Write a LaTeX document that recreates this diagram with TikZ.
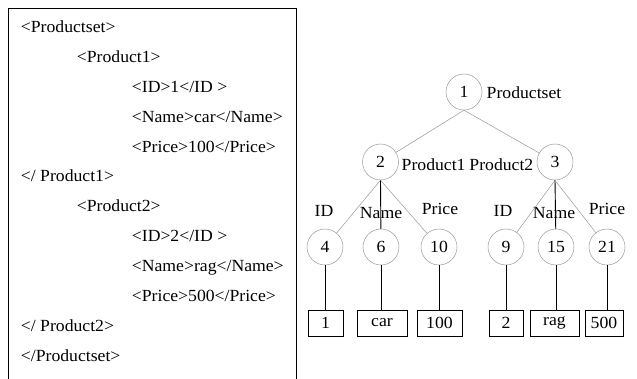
\documentclass[tikz,border=0pt]{standalone}
\usepackage{fontspec}
\setmainfont[FakeStretch=1.04]{Liberation Serif}
\begin{document}
\begin{tikzpicture}[x=1pt,y=-1pt,
  every node/.style={font=\fontsize{17}{20}\selectfont, inner sep=0pt},
  xmltext/.style={anchor=base west},
  treenode/.style={circle, draw=gray!80, line width=0.5pt, minimum size=36pt},
  leafbox/.style={draw=black, line width=0.9pt, minimum height=26pt},
  thinedge/.style={draw=gray!80, line width=0.5pt},
  thickedge/.style={draw=black, line width=0.9pt},
  lbl/.style={anchor=base west},
  lblr/.style={anchor=base east},
  elbl/.style={anchor=base}
]
\useasboundingbox (0,0) rectangle (637,379);
% frame
\draw[line width=0.9pt] (8.5,379) -- (8.5,8) -- (296,8) -- (296,379);
% xml text
\node[xmltext] (t1)  at (20.7,32.5)  {<Productset>};
\node[xmltext] (t2)  at (76.7,62.4)  {<Product1>};
\node[xmltext] (t3)  at (131.7,92.3) {<ID>1</ID >};
\node[xmltext] (t4)  at (131.7,122.2) {<Name>car</Name>};
\node[xmltext] (t5)  at (131.7,152.1) {<Price>100</Price>};
\node[xmltext] (t6)  at (20.7,182.0) {</ Product1>};
\node[xmltext] (t7)  at (76.7,211.9) {<Product2>};
\node[xmltext] (t8)  at (131.7,241.8) {<ID>2</ID >};
\node[xmltext] (t9)  at (131.7,271.7) {<Name>rag</Name>};
\node[xmltext] (t10) at (131.7,301.6) {<Price>500</Price>};
\node[xmltext] (t11) at (20.7,331.5) {</ Product2>};
\node[xmltext] (t12) at (20.7,361.4) {</Productset>};
% tree nodes
\node[treenode] (n1)  at (464,92)    {1};
\node[treenode] (n2)  at (380.5,162) {2};
\node[treenode] (n3)  at (555,162)   {3};
\node[treenode] (n4)  at (325,247)   {4};
\node[treenode] (n6)  at (381,247)   {6};
\node[treenode] (n10) at (439,247)   {10};
\node[treenode] (n9)  at (506,247)   {9};
\node[treenode] (n15) at (556,247)   {15};
\node[treenode] (n21) at (607,247)   {21};
% leaf boxes
\node[leafbox, minimum width=35pt] (b1)   at (325.5,323) {1};
\node[leafbox, minimum width=50pt] (bcar) at (382,323)   {car};
\node[leafbox, minimum width=45pt] (b100) at (439.5,323) {100};
\node[leafbox, minimum width=34pt] (b2)   at (506,323)   {2};
\node[leafbox, minimum width=49pt] (brag) at (554.5,323) {rag};
\node[leafbox, minimum width=38pt] (b500) at (604,323)   {500};
% labels
\node[lbl]  (lps) at (486.5,99) {Productset};
\node[lbl]  (lp1) at (401.5,171) {Product1};
\node[lblr] (lp2) at (533.5,171) {Product2};
\node[elbl] (lid1) at (324,217) {ID};
\node[elbl] (lnm1) at (381,219) {Name};
\node[elbl] (lpr1) at (440,215) {Price};
\node[elbl] (lid2) at (503,217) {ID};
\node[elbl] (lnm2) at (554,219) {Name};
\node[elbl] (lpr2) at (607,215) {Price};
% edges
\draw[thinedge] (n1.south) -- (n2);
\draw[thinedge] (n1.south) -- (n3);
\draw[thinedge] (n2.south) -- (n4);
\draw[thickedge] (n2.south) -- (n6);
\draw[thinedge] (n2.south) -- (n10);
\draw[thinedge] (n3.south) -- (n9);
\draw[thickedge] (n3.south) -- (n15);
\draw[thinedge] (n3.south) -- (n21);
\draw[thickedge] (n4.south) -- (n4.south |- b1.north);
\draw[thickedge] (n6.south) -- (n6.south |- bcar.north);
\draw[thickedge] (n10.south) -- (n10.south |- b100.north);
\draw[thickedge] (n9.south) -- (n9.south |- b2.north);
\draw[thickedge] (n15.south) -- (n15.south |- brag.north);
\draw[thickedge] (n21.south) -- (n21.south |- b500.north);
\end{tikzpicture}
\end{document}
